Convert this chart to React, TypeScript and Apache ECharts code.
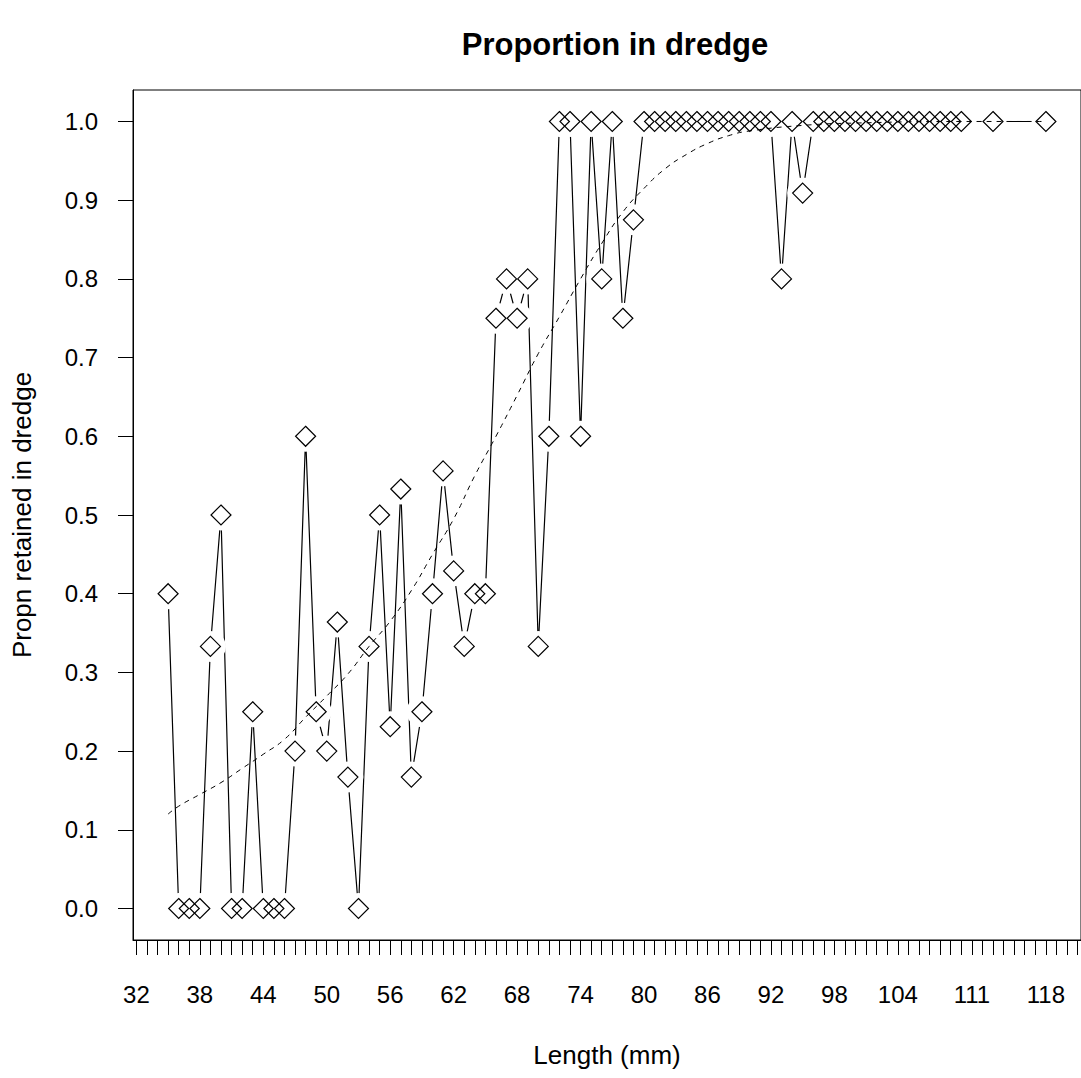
import { useEffect, useRef } from "react";
import * as echarts from "echarts";

// observed proportions by length (mm)
const lengths = [
  35, 36, 37, 38, 39, 40, 41, 42, 43, 44, 45, 46, 47, 48, 49, 50, 51, 52, 53, 54,
  55, 56, 57, 58, 59, 60, 61, 62, 63, 64, 65, 66, 67, 68, 69, 70, 71, 72, 73, 74,
  75, 76, 77, 78, 79, 80, 81, 82, 83, 84, 85, 86, 87, 88, 89, 90, 91, 92, 93, 94,
  95, 96, 97, 98, 99, 100, 101, 102, 103, 104, 105, 106, 107, 108, 109, 110, 113, 118,
];
const propn = [
  0.4, 0, 0, 0, 0.333, 0.5, 0, 0, 0.25, 0, 0, 0, 0.2, 0.6, 0.25, 0.2, 0.364, 0.167, 0, 0.333,
  0.5, 0.231, 0.533, 0.167, 0.25, 0.4, 0.556, 0.429, 0.333, 0.4, 0.4, 0.75, 0.8, 0.75, 0.8, 0.333, 0.6, 1, 1, 0.6,
  1, 0.8, 1, 0.75, 0.875, 1, 1, 1, 1, 1, 1, 1, 1, 1, 1, 1, 1, 1, 0.8, 1,
  0.909, 1, 1, 1, 1, 1, 1, 1, 1, 1, 1, 1, 1, 1, 1, 1, 1, 1,
];

// fitted curve (dashed)
const fitLengths = [
  35, 36, 38, 40, 42, 44, 46, 48, 50, 52, 54, 56, 58, 60, 62, 64, 66, 68, 70,
  72, 74, 76, 78, 80, 82, 84, 86, 88, 90, 95, 100, 110, 118,
];
const fitValues = [
  0.12, 0.13, 0.145, 0.16, 0.178, 0.196, 0.215, 0.243, 0.27, 0.298, 0.333, 0.365, 0.404, 0.45, 0.495, 0.55, 0.6, 0.652, 0.705,
  0.752, 0.8, 0.845, 0.885, 0.915, 0.94, 0.958, 0.972, 0.982, 0.988, 0.995, 0.998, 1, 1,
];

const xTicks = Array.from({ length: 90 }, (_, i) => 32 + i);
const xLabels = [32, 38, 44, 50, 56, 62, 68, 74, 80, 86, 92, 98, 104, 111, 118];
const yTicks = [0, 0.1, 0.2, 0.3, 0.4, 0.5, 0.6, 0.7, 0.8, 0.9, 1.0];

const FONT = "Liberation Sans";

export default function App() {
  const chartRef = useRef<HTMLDivElement>(null);

  useEffect(() => {
    if (!chartRef.current) return;
    const chart = echarts.init(chartRef.current, undefined, { renderer: "svg" });

    const points = lengths.map((l, i) => [l, propn[i]]);
    const fit = fitLengths.map((l, i) => [l, fitValues[i]]);

    const option: echarts.EChartsOption = {
      animation: false,
      backgroundColor: "#ffffff",
      textStyle: { fontFamily: FONT, color: "#000" },
      title: {
        text: "Proportion in dredge",
        left: 610,
        top: 24,
        textAlign: "center",
        textStyle: { fontFamily: FONT, fontSize: 31, fontWeight: "bold", color: "#000" },
      },
      grid: {
        left: 133,
        top: 90,
        width: 955,
        height: 850,
        show: true,
        borderColor: "#000",
        borderWidth: 1,
        backgroundColor: "transparent",
      },
      xAxis: {
        type: "value",
        min: 31.68,
        max: 121.32,
        name: "Length (mm)",
        nameLocation: "middle",
        nameGap: 102,
        nameTextStyle: { fontFamily: FONT, fontSize: 26, color: "#000" },
        axisLine: { show: true, onZero: false, lineStyle: { color: "#000", width: 1 } },
        axisTick: {
          show: true,
          customValues: xTicks,
          length: 15,
          lineStyle: { color: "#000", width: 1 },
        },
        axisLabel: {
          customValues: xLabels,
          margin: 42,
          fontFamily: FONT,
          fontSize: 24,
          color: "#000",
        },
        splitLine: { show: false },
      },
      yAxis: {
        type: "value",
        min: -0.04,
        max: 1.04,
        name: "Propn retained in dredge",
        nameLocation: "middle",
        nameGap: 98,
        nameTextStyle: { fontFamily: FONT, fontSize: 26, color: "#000" },
        axisLine: { show: true, onZero: false, lineStyle: { color: "#000", width: 1 } },
        axisTick: {
          show: true,
          customValues: yTicks,
          length: 15,
          lineStyle: { color: "#000", width: 1 },
        },
        axisLabel: {
          customValues: yTicks,
          margin: 35,
          fontFamily: FONT,
          fontSize: 24,
          color: "#000",
          formatter: (v: number) => v.toFixed(1),
        },
        splitLine: { show: false },
      },
      series: [
        {
          type: "line",
          data: points,
          symbol: "none",
          lineStyle: { color: "#000", width: 1.2 },
          z: 1,
          silent: true,
        },
        {
          // white gap round each point, like R's type = "b"
          type: "scatter",
          data: points,
          symbol: "circle",
          symbolSize: 31,
          itemStyle: { color: "#fff", borderWidth: 0, opacity: 1 },
          z: 2,
          silent: true,
        },
        {
          type: "line",
          data: fit,
          symbol: "none",
          smooth: true,
          lineStyle: { color: "#000", width: 1, type: [5, 5] },
          z: 3,
          silent: true,
        },
        {
          type: "scatter",
          data: points,
          symbol: "diamond",
          symbolSize: 20,
          itemStyle: {
            color: "rgba(0,0,0,0)",
            borderColor: "#000",
            borderWidth: 1.2,
            opacity: 1,
          },
          z: 4,
          silent: true,
        },
      ],
    };

    chart.setOption(option);
    return () => chart.dispose();
  }, []);

  return (
    <div
      ref={chartRef}
      style={{ position: "absolute", left: 0, top: 0, width: 1081, height: 1078 }}
    />
  );
}
